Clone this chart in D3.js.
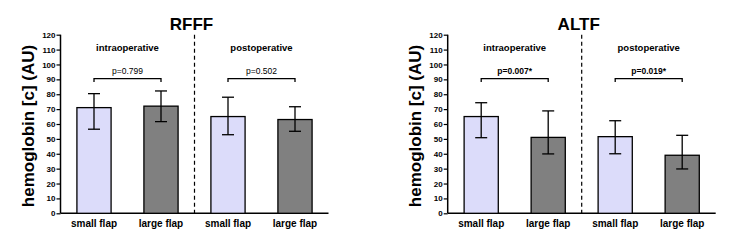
<!DOCTYPE html>
<html>
<head>
<meta charset="utf-8">
<script src="https://cdn.jsdelivr.net/npm/d3@7"></script>
<style>
  body { margin: 0; background: #fff; }
  text { font-family: "Liberation Sans", Arial, sans-serif; }
</style>
</head>
<body>
<div id="chart"></div>
<script>
// data
const groups = ["small flap", "large flap", "small flap", "large flap"];
const phases = ["intraoperative", "postoperative"];
const yTicks = [0, 10, 20, 30, 40, 50, 60, 70, 80, 90, 100, 110, 120];

const rfffMean = [71, 72, 65, 63];
const rfffLow  = [56.5, 61.6, 52.8, 55.1];
const rfffHigh = [80.4, 82.2, 78, 71.6];
const rfffP    = ["p=0.799", "p=0.502"];

const altfMean = [65, 51, 51.5, 39];
const altfLow  = [50.8, 39.9, 40, 29.8];
const altfHigh = [74.3, 68.8, 62.2, 52.4];
const altfP    = ["p=0.007*", "p=0.019*"];

const fills = ["#dcdcfa", "#808080", "#dcdcfa", "#808080"];

const svg = d3.select("#chart").append("svg")
  .attr("width", 753)
  .attr("height", 242);

function drawPanel(left, title, mean, low, high, pvals, pBold) {
  const g = svg.append("g").attr("transform", `translate(${left},0)`);
  const w = 268;

  const y = d3.scaleLinear().domain([0, 120]).range([213.3, 34.7]);
  const x = d3.scaleBand()
    .domain(d3.range(groups.length))
    .range([0, w])
    .paddingInner(0.49)
    .paddingOuter(0.245);

  const rows = mean.map((m, i) => ({ i, m, lo: low[i], hi: high[i] }));

  // title
  g.append("text")
    .attr("x", w / 2 - 3)
    .attr("y", 30)
    .attr("text-anchor", "middle")
    .style("font-size", "17px")
    .style("font-weight", "bold")
    .text(title);

  // y axis
  const ya = g.append("g")
    .call(d3.axisLeft(y).tickValues(yTicks).tickSize(4).tickPadding(1));
  ya.select(".domain").attr("stroke-width", 1.5).attr("d", `M0,${y(120)}V${y(0)}`);
  ya.selectAll(".tick line").attr("stroke-width", 1.2);
  ya.selectAll("text")
    .style("font-size", "8px")
    .style("font-weight", "bold")
    .style("font-family", "'Liberation Sans', Arial, sans-serif");

  // x axis baseline
  const xa = g.append("g")
    .attr("transform", `translate(0,${y(0)})`)
    .call(d3.axisBottom(x).tickSize(0).tickPadding(7).tickFormat(i => groups[i]));
  xa.select(".domain").attr("stroke-width", 1.5).attr("d", `M0,0H${w}`);
  xa.selectAll("text")
    .style("font-size", "10px")
    .style("font-weight", "bold")
    .style("font-family", "'Liberation Sans', Arial, sans-serif");

  // y label
  g.append("text")
    .attr("transform", `translate(${-27},${(y(0) + y(120)) / 2 + 2}) rotate(-90)`)
    .attr("text-anchor", "middle")
    .style("font-size", "17px")
    .style("font-weight", "bold")
    .text("hemoglobin [c] (AU)");

  // divider
  const mid = (x(1) + x.bandwidth() + x(2)) / 2;
  g.append("line")
    .attr("x1", mid).attr("x2", mid)
    .attr("y1", y(120)).attr("y2", y(0))
    .attr("stroke", "#000")
    .attr("stroke-width", 1.2)
    .attr("stroke-dasharray", "4,3");

  // phase labels
  phases.forEach((ph, k) => {
    const cx = (x(2 * k) + x(2 * k + 1) + x.bandwidth()) / 2;
    g.append("text")
      .attr("x", cx)
      .attr("y", 51)
      .attr("text-anchor", "middle")
      .style("font-size", "9.5px")
      .style("font-weight", "bold")
      .text(ph);

    const x1 = x(2 * k) + x.bandwidth() / 2;
    const x2 = x(2 * k + 1) + x.bandwidth() / 2;
    g.append("path")
      .attr("d", `M${x1},${y(88.3)}V${y(90.5)}H${x2}V${y(88.3)}`)
      .attr("fill", "none")
      .attr("stroke", "#000")
      .attr("stroke-width", 1.3);
    g.append("text")
      .attr("x", cx)
      .attr("y", y(90.5) - 5)
      .attr("text-anchor", "middle")
      .style("font-size", "8.5px")
      .style("font-weight", pBold ? "bold" : "normal")
      .text(pvals[k]);
  });

  // bars
  g.selectAll(".bar")
    .data(rows)
    .enter()
    .append("rect")
    .attr("class", "bar")
    .attr("x", d => x(d.i))
    .attr("y", d => y(d.m))
    .attr("width", x.bandwidth())
    .attr("height", d => y(0) - y(d.m))
    .attr("fill", d => fills[d.i])
    .attr("stroke", "#000")
    .attr("stroke-width", 1.3);

  // error bars
  const cap = 6;
  const eb = g.selectAll(".err").data(rows).enter().append("g").attr("class", "err")
    .attr("stroke", "#000").attr("stroke-width", 1.3);
  eb.append("line")
    .attr("x1", d => x(d.i) + x.bandwidth() / 2)
    .attr("x2", d => x(d.i) + x.bandwidth() / 2)
    .attr("y1", d => y(d.lo)).attr("y2", d => y(d.hi));
  eb.append("line")
    .attr("x1", d => x(d.i) + x.bandwidth() / 2 - cap)
    .attr("x2", d => x(d.i) + x.bandwidth() / 2 + cap)
    .attr("y1", d => y(d.hi)).attr("y2", d => y(d.hi));
  eb.append("line")
    .attr("x1", d => x(d.i) + x.bandwidth() / 2 - cap)
    .attr("x2", d => x(d.i) + x.bandwidth() / 2 + cap)
    .attr("y1", d => y(d.lo)).attr("y2", d => y(d.lo));
}

drawPanel(60.5, "RFFF", rfffMean, rfffLow, rfffHigh, rfffP, false);
drawPanel(447.7, "ALTF", altfMean, altfLow, altfHigh, altfP, true);
</script>
</body>
</html>
